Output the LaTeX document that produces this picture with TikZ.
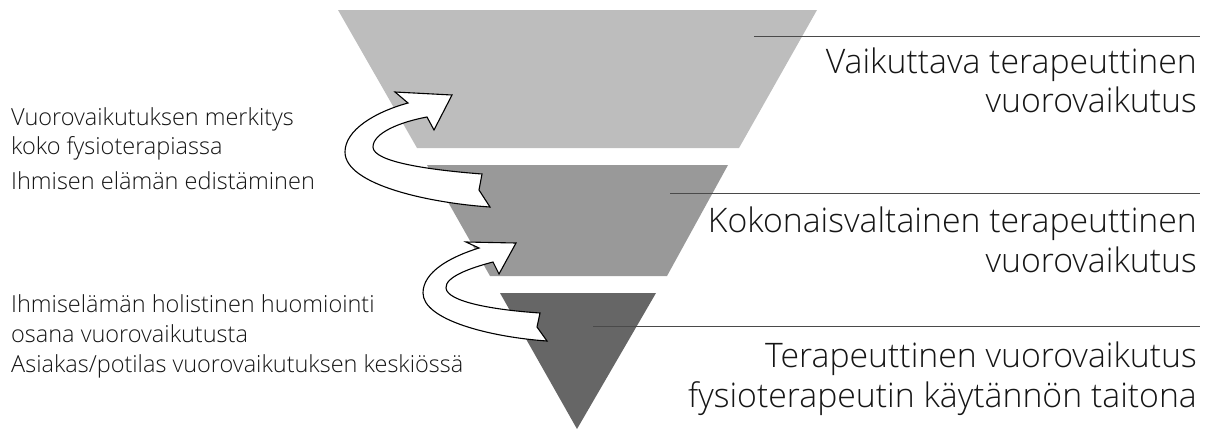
\documentclass[tikz,border=0pt]{standalone}
\usepackage{fontspec}
\setmainfont{Open Sans}[UprightFont={* Light}]
\definecolor{tierA}{HTML}{BDBDBD}
\definecolor{tierB}{HTML}{999999}
\definecolor{tierC}{HTML}{666666}
\definecolor{leadc}{HTML}{4A4A4A}
\definecolor{txt}{HTML}{151515}
\begin{document}
\begin{tikzpicture}[x=1pt,y=-1pt,
  big/.style={font=\fontsize{33.8}{40}\selectfont, text=txt, inner sep=0pt, anchor=base east},
  small/.style={font=\fontsize{23.5}{29}\selectfont, text=txt, inner sep=0pt, anchor=base west},
  leader/.style={draw=leadc, line width=0.9pt},
  flow/.style={draw=black, fill=white, line width=1.1pt, line join=miter}]
\useasboundingbox (0,0) rectangle (1214,429);

% funnel tiers
\fill[tierA] (338,10) -- (817,10) -- (739,148) -- (417,148) -- cycle;
\fill[tierB] (427,165) -- (728,165) -- (667,276) -- (490,276) -- cycle;
\fill[tierC] (500,293) -- (656,293) -- (577,429) -- cycle;

% leader lines to the level titles
\coordinate (l1s) at (754,36);  \coordinate (l1e) at (1200,36);
\coordinate (l2s) at (670,193); \coordinate (l2e) at (1200,193);
\coordinate (l3s) at (593,326); \coordinate (l3e) at (1200,326);
\draw[leader] (l1s) -- (l1e);
\draw[leader] (l2s) -- (l2e);
\draw[leader] (l3s) -- (l3e);

% curved block arrows between tiers
\draw[flow] (490,207) -- (479,190) -- (482,174)
  .. controls (430,170) and (373,162) .. (373,147)
  .. controls (373,133) and (400,122) .. (427,117)
  -- (434,130) -- (452,95) -- (395,92) -- (408,103)
  .. controls (375,112) and (345,130) .. (345,152)
  .. controls (345,185) and (430,203) .. (490,207) -- cycle;
\draw[flow] (547,341) -- (537,327) -- (540,313)
  .. controls (495,310) and (447,302) .. (446,288)
  .. controls (445,277) and (470,268) .. (493,262)
  -- (499,274) -- (516,243) -- (466,242) -- (479,248)
  .. controls (450,257) and (423,272) .. (423,293)
  .. controls (423,320) and (490,337) .. (547,341) -- cycle;

% level titles
\node[big] (t1a) at (1197,73)  {Vaikuttava terapeuttinen};
\node[big] (t1b) at (1197,112) {vuorovaikutus};
\node[big] (t2a) at (1197,232) {Kokonaisvaltainen terapeuttinen};
\node[big] (t2b) at (1197,272) {vuorovaikutus};
\node[big] (t3a) at (1197,367) {Terapeuttinen vuorovaikutus};
\node[big] (t3b) at (1197,407) {fysioterapeutin käytännön taitona};

% transition notes
\node[small] (n1a) at (11,125) {Vuorovaikutuksen merkitys};
\node[small] (n1b) at (11,154) {koko fysioterapiassa};
\node[small] (n1c) at (11,189) {Ihmisen elämän edistäminen};
\node[small] (n2a) at (11,312) {Ihmiselämän holistinen huomiointi};
\node[small] (n2b) at (11,342) {osana vuorovaikutusta};
\node[small] (n2c) at (11,372) {Asiakas/potilas vuorovaikutuksen keskiössä};
\end{tikzpicture}
\end{document}
